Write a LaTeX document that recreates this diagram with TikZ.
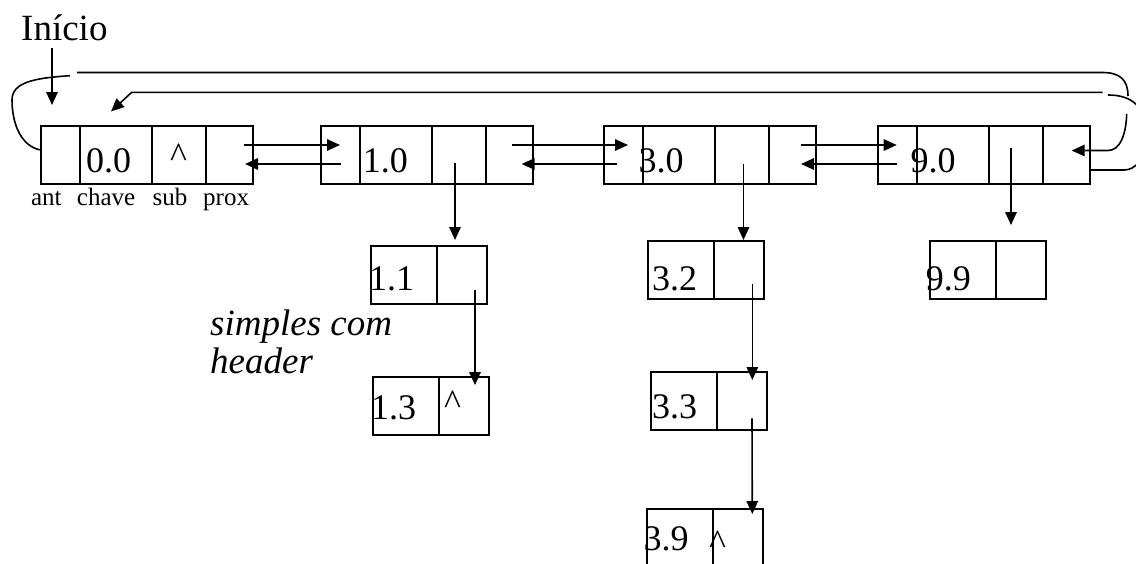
\documentclass[tikz,border=0pt]{standalone}
\usepackage{fontspec}
\setmainfont{Liberation Serif}
\usetikzlibrary{arrows.meta}

\tikzset{
  cell/.style={draw, line width=2pt, minimum height=58pt, inner sep=0pt, outer sep=0pt, anchor=west},
  wire/.style={line width=1.6pt},
  ptr/.style={wire, -{Triangle[length=13pt,width=11.5pt]}},
  big/.style={inner sep=0pt, anchor=base west, font=\fontsize{36}{40}\selectfont},
  nilmark/.style={inner sep=0pt, anchor=base, font=\fontsize{36}{40}\selectfont},
  fieldname/.style={inner sep=0pt, anchor=base west, font=\fontsize{25}{28}\selectfont},
  remark/.style={inner sep=0pt, anchor=base west, font=\fontsize{37}{40}\selectfont\itshape},
}

% a record of the main list: ant | chave | sub | prox
\newcommand\recnode[2]{%
  \node[cell, minimum width=39pt] (#1-ant) at (#2,154.5) {};
  \node[cell, minimum width=72pt] (#1-key) at (#1-ant.east) {};
  \node[cell, minimum width=54pt] (#1-sub) at (#1-key.east) {};
  \node[cell, minimum width=47pt] (#1-prox) at (#1-sub.east) {};
}
% a record of a sublist: chave | prox
\newcommand\pairnode[3]{%
  \node[cell, minimum width=66pt] (#1-key) at (#2,#3+29) {};
  \node[cell, minimum width=50pt] (#1-nxt) at (#1-key.east) {};
}

\begin{document}
\begin{tikzpicture}[x=1pt, y=-1pt]
\useasboundingbox (0,0) rectangle (1136,563);

% main doubly linked list
\recnode{h}{41}
\recnode{n1}{320.7}
\recnode{n3}{603.5}
\recnode{n9}{878}

% sublists
\pairnode{s11}{370.7}{245.7}
\pairnode{s13}{372.7}{376.7}
\pairnode{s32}{648.3}{240.7}
\pairnode{s33}{650.7}{371.7}
\pairnode{s39}{647.3}{509.3}
\pairnode{s99}{930}{240.7}

% keys and null pointers
\node[big] (h-val)  at (86,172)    {0.0};
\node[nilmark] (h-nil) at (178.5,167) {\textasciicircum};
\node[big] (n1-val) at (362.7,172) {1.0};
\node[big] (n3-val) at (638.5,172) {3.0};
\node[big] (n9-val) at (910.5,172) {9.0};
\node[big] (s11-val) at (369,290)   {1.1};
\node[big] (s13-val) at (371,419)   {1.3};
\node[nilmark] (s13-nil) at (452.5,414) {\textasciicircum};
\node[big] (s32-val) at (651.8,290) {3.2};
\node[big] (s33-val) at (651.8,418.5) {3.3};
\node[big] (s39-val) at (643.5,550) {3.9};
\node[nilmark] (s39-nil) at (717.5,554) {\textasciicircum};
\node[big] (s99-val) at (925.6,290) {9.9};

% labels
\node[big, font=\fontsize{37}{40}\selectfont] (inicio) at (21,40.7) {Início};
\node[fieldname] (lbl-ant)   at (30.8,205)  {ant};
\node[fieldname] (lbl-chave) at (76.7,205)  {chave};
\node[fieldname] (lbl-sub)   at (152.4,205) {sub};
\node[fieldname] (lbl-prox)  at (203,205)   {prox};
\node[remark] (note1) at (210,335)   {simples com};
\node[remark] (note2) at (210,373.3) {header};

% start pointer
\draw[ptr] ([shift={(31,7.3)}]inicio.base west) -- ([shift={(-8.5,-49.5)}]h-ant.center);

% prox / ant links
\draw[ptr] ([shift={(38,-9.5)}]h-prox.west)    -- ([shift={(19.3,-9.5)}]n1-ant.west);
\draw[ptr] ([shift={(20,9.5)}]n1-ant.west)     -- ([shift={(39,9.5)}]h-prox.west);
\draw[ptr] ([shift={(26.3,-9.5)}]n1-prox.west) -- ([shift={(24.5,-9.5)}]n3-ant.west);
\draw[ptr] ([shift={(13.5,9.5)}]n3-ant.west)   -- ([shift={(36,9.5)}]n1-prox.west);
\draw[ptr] ([shift={(32,-9.5)}]n3-prox.west)   -- ([shift={(18.7,-9.5)}]n9-ant.west);
\draw[ptr] ([shift={(19.4,9.5)}]n9-ant.west)   -- ([shift={(32.5,9.5)}]n3-prox.west);

% sub pointers
\draw[ptr] ([shift={(-3.7,8.5)}]n1-sub.center) -- ([shift={(-6.7,-5.7)}]s11-nxt.north);
\draw[ptr] ([shift={(2,9.5)}]n3-sub.center)    -- ([shift={(4.2,-0.7)}]s32-nxt.north);
\draw[ptr] ([shift={(-5,-6.5)}]n9-sub.center)  -- ([shift={(-10,-15.7)}]s99-nxt.north);
\draw[ptr] ([shift={(13.3,15.3)}]s11-nxt.center) -- ([shift={(11.3,8.3)}]s13-nxt.north);
\draw[ptr] ([shift={(13,14.3)}]s32-nxt.center)   -- ([shift={(10.6,8.3)}]s33-nxt.north);
\draw[ptr] ([shift={(10.3,17.6)}]s33-nxt.center) -- ([shift={(14,4.7)}]s39-nxt.north);

% circular link: header ant -> last record
\draw[wire] ([shift={(0,-4.5)}]h-ant.west) .. controls (22,147) and (12,125) .. (12,100)
            .. controls (12,82) and (35,78) .. (70,75.7);
\draw[wire] (77,72.5) -- (1102.7,72.5) .. controls (1120,72.5) and (1128,80) .. (1128,96);
\draw[ptr] (1126.7,114) .. controls (1126,135) and (1120,150.5) .. (1108,150.5)
           -- ([shift={(28.7,-4)}]n9-prox.west);

% circular link: last record -> header
\draw[wire] ([shift={(0,15.5)}]n9-prox.east) -- (1124,170)
            .. controls (1135,170) and (1146,160) .. (1146,133)
            .. controls (1146,105) and (1130,95) .. (1108,95);
\draw[ptr] (1102.7,92.3) -- (131.7,92.3) -- ([shift={(31,-14)}]h-key.north west);
\end{tikzpicture}
\end{document}
